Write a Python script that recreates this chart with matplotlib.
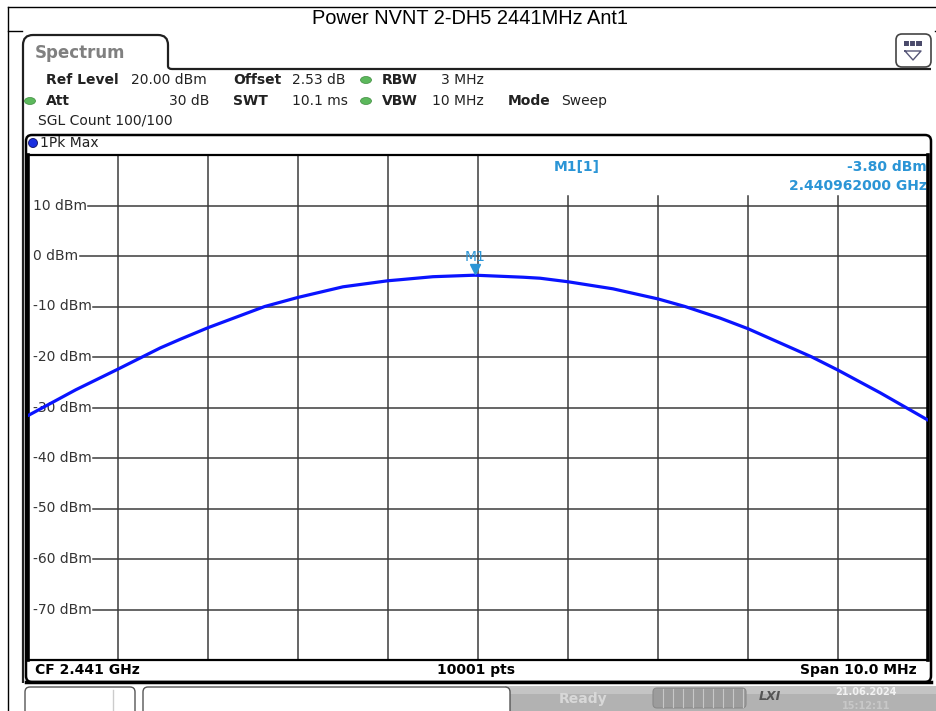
import numpy as np
import matplotlib.pyplot as plt
from matplotlib.patches import FancyBboxPatch, Rectangle, Ellipse, PathPatch
from matplotlib.path import Path
from matplotlib.transforms import offset_copy

# Trace: offset from CF (MHz) and level (dBm)
freq_mhz = [-5.0, -4.47, -4.0, -3.53, -3.31, -3.0, -2.37, -2.0, -1.5, -1.0, -0.87,
            -0.5, -0.038, 0.5, 0.69, 1.0, 1.5, 2.0, 2.3, 2.69, 3.0, 3.71, 4.0, 4.47, 5.0]
level_dbm = [-31.6, -26.5, -22.4, -18.2, -16.5, -14.2, -10.0, -8.2, -6.1, -4.9, -4.7,
             -4.1, -3.8, -4.2, -4.4, -5.1, -6.5, -8.5, -10.0, -12.3, -14.4, -20.0, -22.6, -27.1, -32.5]

marker_freq = -0.038
marker_level = -3.8
y_ticks = [10, 0, -10, -20, -30, -40, -50, -60, -70]
x_grid = [-4, -3, -2, -1, 0, 1, 2, 3, 4]

W, H = 937, 711
fig = plt.figure(figsize=(W / 100, H / 100), dpi=100)
plt.rcParams['font.family'] = ['DejaVu Sans']

# background axes in pixel coordinates for the instrument frame
bg = fig.add_axes([0, 0, 1, 1])
bg.set_xlim(0, W)
bg.set_ylim(H, 0)
bg.axis('off')

# outer title frame
bg.plot([8, W], [7, 7], color='black', lw=1)
bg.plot([8, 8], [7, H], color='black', lw=1)
bg.plot([8, 22], [31, 31], color='black', lw=1)
bg.plot([935, W], [31, 31], color='black', lw=1)
bg.text(470, 19, "Power NVNT 2-DH5 2441MHz Ant1", ha='center', va='center',
        fontsize=14.4, family='Liberation Sans')

# spectrum tab and panel outline
verts = [(23, 683), (23, 45), (23, 35), (33, 35), (158, 35), (168, 35), (168, 45),
         (168, 66), (168, 69), (172, 69), (931, 69)]
codes = [Path.MOVETO, Path.LINETO, Path.CURVE3, Path.CURVE3, Path.LINETO, Path.CURVE3,
         Path.CURVE3, Path.LINETO, Path.CURVE3, Path.CURVE3, Path.LINETO]
bg.add_patch(PathPatch(Path(verts, codes), facecolor='none', edgecolor='#202020', lw=1.6))
bg.text(35, 53, "Spectrum", ha='left', va='center', fontsize=12, color='#808080',
        fontweight='bold')

# menu icon top right
bg.add_patch(FancyBboxPatch((896, 34), 35, 33, boxstyle="round,pad=0,rounding_size=6",
                            facecolor='white', edgecolor='#444444', lw=1.2))
bg.add_patch(Rectangle((904, 41), 18, 5, facecolor='#4a4a6a', edgecolor='none'))
for xx in (909, 915):
    bg.plot([xx, xx], [41, 46], color='white', lw=0.8)
bg.plot([905, 921, 913, 905], [51, 51, 60, 51], color='#555577', lw=1)

# settings text
fs = 10
def info(x, y, s, bold=False, ha='left'):
    bg.text(x, y, s, ha=ha, va='center', fontsize=fs, color='#222222',
            fontweight='bold' if bold else 'normal')

info(46, 80, "Ref Level", True)
info(131, 80, "20.00 dBm")
info(233, 80, "Offset", True)
info(292, 80, "2.53 dB")
info(382, 80, "RBW", True)
info(484, 80, "3 MHz", ha='right')
info(46, 101, "Att", True)
info(209, 101, "30 dB", ha='right')
info(233, 101, "SWT", True)
info(292, 101, "10.1 ms")
info(382, 101, "VBW", True)
info(484, 101, "10 MHz", ha='right')
info(508, 101, "Mode", True)
info(561, 101, "Sweep")
info(38, 121, "SGL Count 100/100")
info(40, 143, "1Pk Max")
for (cx, cy) in [(30, 101), (366, 80), (366, 101)]:
    bg.add_patch(Ellipse((cx, cy), 11, 7, facecolor='#5cb85c', edgecolor='#3d8b3d', lw=0.5))
bg.add_patch(Ellipse((33, 143), 9, 9, facecolor='#1a2fe0', edgecolor='#101060', lw=0.6))

# trace window box
bg.add_patch(FancyBboxPatch((26, 135), 905, 547, boxstyle="round,pad=0,rounding_size=6",
                            facecolor='none', edgecolor='black', lw=1.8))
bg.plot([26, 931], [682, 682], color='black', lw=2.5)
bg.text(35, 670, "CF 2.441 GHz", ha='left', va='center', fontsize=fs, fontweight='bold')
bg.text(476, 670, "10001 pts", ha='center', va='center', fontsize=fs, fontweight='bold')
bg.text(917, 670, "Span 10.0 MHz", ha='right', va='center', fontsize=fs, fontweight='bold')

# status bar
bg.add_patch(Rectangle((505, 686), 432, 30, facecolor='#b2b2b2', edgecolor='none'))
bg.add_patch(Rectangle((505, 686), 432, 8, facecolor='#c4c4c4', edgecolor='none'))
bg.add_patch(FancyBboxPatch((25, 687), 110, 40, boxstyle="round,pad=0,rounding_size=5",
                            facecolor='white', edgecolor='#555555', lw=1))
bg.plot([113, 113], [690, 711], color='#cccccc', lw=1)
bg.add_patch(FancyBboxPatch((143, 687), 367, 40, boxstyle="round,pad=0,rounding_size=5",
                            facecolor='white', edgecolor='#555555', lw=1))
bg.text(583, 699, "Ready", ha='center', va='center', fontsize=10, color='#d8d8d8',
        fontweight='bold')
bg.add_patch(FancyBboxPatch((653, 688), 93, 20, boxstyle="round,pad=0,rounding_size=4",
                            facecolor='#9c9c9c', edgecolor='#8a8a8a', lw=0.8))
for xx in np.arange(663, 745, 10):
    bg.plot([xx, xx], [689, 707], color='#c8c8c8', lw=0.8)
bg.text(770, 697, "LXI", ha='center', va='center', fontsize=9, color='#555555',
        fontweight='bold', style='italic')
bg.text(866, 692, "21.06.2024", ha='center', va='center', fontsize=7, color='#f2f2f2',
        fontweight='bold')
bg.text(866, 706, "15:12:11", ha='center', va='center', fontsize=7, color='#c8c8c8',
        fontweight='bold')

# data axes over the grid area
ax = fig.add_axes([28 / W, 1 - 660 / H, 900 / W, 505 / H])
ax.set_facecolor('none')
ax.set_xlim(-5, 5)
ax.set_ylim(-80, 20)
ax.set_xticks([])
ax.set_yticks([])
for side in ('left', 'right'):
    ax.spines[side].set_linewidth(2.6)
for side in ('top', 'bottom'):
    ax.spines[side].set_linewidth(1.6)

grid_col = '#3c3c3c'
for xv in x_grid:
    top = 20 if xv <= 0 else 11.9
    ax.plot([xv, xv], [-80, top], color=grid_col, lw=1.1, zorder=1)

labels = []
for yv in y_ticks:
    t = ax.text(-4.94, yv, f"{yv} dBm", ha='left', va='center', fontsize=10,
                color='#333333', zorder=2)
    labels.append((yv, t))

fig.canvas.draw()
inv = ax.transData.inverted()
for yv, t in labels:
    bb = t.get_window_extent()
    x0 = inv.transform((bb.x1 + 1, 0))[0]
    ax.plot([x0, 5], [yv, yv], color=grid_col, lw=1.1, zorder=1)

ax.plot(freq_mhz, level_dbm, color='#0a14ff', lw=2.3, zorder=3,
        solid_joinstyle='round', solid_capstyle='round')

mk_col = '#2b95d6'
ax.plot([marker_freq], [marker_level], marker='v', color=mk_col, markersize=7,
        transform=offset_copy(ax.transData, fig=fig, y=6, units='dots'), zorder=4)
ax.text(marker_freq, marker_level, "M1", ha='center', va='center', fontsize=10, color=mk_col,
        transform=offset_copy(ax.transData, fig=fig, y=18, units='dots'), zorder=4)

bg.text(577, 167, "M1[1]", ha='center', va='center', fontsize=fs, color=mk_col,
        fontweight='bold')
bg.text(927, 167, "-3.80 dBm", ha='right', va='center', fontsize=fs, color=mk_col,
        fontweight='bold')
bg.text(927, 186, "2.440962000 GHz", ha='right', va='center', fontsize=fs, color=mk_col,
        fontweight='bold')

fig.savefig("out.png", dpi=100)
